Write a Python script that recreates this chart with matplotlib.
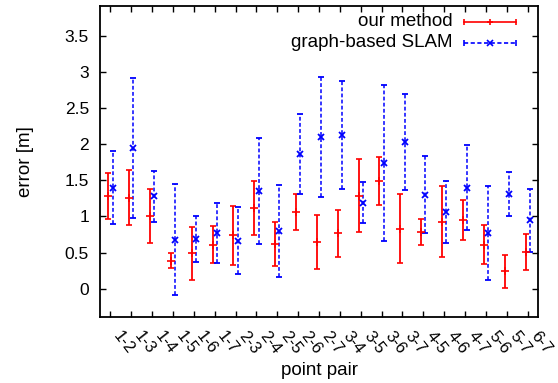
import matplotlib
matplotlib.use("Agg")
import matplotlib.pyplot as plt
import numpy as np
from matplotlib.ticker import FormatStrFormatter

# ── Data ──────────────────────────────────────────────────────────────────
pairs = ["1-2", "1-3", "1-4", "1-5", "1-6", "1-7", "2-3", "2-4", "2-5", "2-6",
         "2-7", "3-4", "3-5", "3-6", "3-7", "4-5", "4-6", "4-7", "5-6", "5-7",
         "6-7"]
ours_mean = [1.28, 1.26, 1.01, 0.39, 0.49, 0.61, 0.74, 1.12, 0.62, 1.06,
             0.65, 0.765, 1.29, 1.49, 0.83, 0.79, 0.93, 0.95, 0.61, 0.24,
             0.51]
ours_err = [0.32, 0.38, 0.37, 0.105, 0.37, 0.26, 0.41, 0.37, 0.30, 0.245,
            0.375, 0.33, 0.50, 0.335, 0.48, 0.18, 0.49, 0.275, 0.27, 0.225,
            0.245]
slam_mean = [1.40, 1.95, 1.28, 0.68, 0.69, 0.77, 0.665, 1.35, 0.80, 1.86,
             2.10, 2.13, 1.19, 1.74, 2.03, 1.30, 1.065, 1.40, 0.77, 1.31,
             0.945]
slam_err = [0.50, 0.97, 0.35, 0.77, 0.315, 0.41, 0.46, 0.73, 0.64, 0.555,
            0.83, 0.75, 0.28, 1.08, 0.66, 0.53, 0.425, 0.585, 0.655, 0.30,
            0.44]

RED = "#ff0000"
BLUE = "#0000ff"
FS = 12.5
FS_TXT = 13.5

plt.rcParams["font.family"] = ["Liberation Sans", "DejaVu Sans"]

fig = plt.figure(figsize=(5.58, 3.83), dpi=100)
ax = fig.add_axes([0.1792, 0.1723, 0.785, 0.812])

x = np.arange(len(pairs))
ax.errorbar(x - 0.1, ours_mean, yerr=ours_err, fmt="+", color=RED,
            elinewidth=1.3, capsize=2.5, capthick=1.3, markersize=6, mew=1.2)
eb = ax.errorbar(x + 0.1, slam_mean, yerr=slam_err, fmt="x", color=BLUE,
                 elinewidth=1.1, capsize=2.5, capthick=1.1, markersize=4.5,
                 mew=1.3)
eb.lines[2][0].set_linestyle((0, (2.5, 1.5)))

# ── Axes styling (gnuplot look) ───────────────────────────────────────────
ax.set_xlim(-0.5, 20.5)
ax.set_ylim(-0.39, 3.91)
ax.set_xticks(x)
ax.set_xticklabels(pairs, rotation=-52, ha="left", va="top", fontsize=12)
ax.set_yticks(np.arange(0, 3.6, 0.5))
ax.yaxis.set_major_formatter(FormatStrFormatter("%g"))
ax.tick_params(direction="in", top=True, right=True, length=4, width=1)
ax.tick_params(axis="y", pad=8, labelsize=FS)
ax.tick_params(axis="x", pad=8)
for sp in ax.spines.values():
    sp.set_linewidth(1.3)

ax.set_ylabel("error [m]", fontsize=FS_TXT, labelpad=22)
ax.set_xlabel("point pair", fontsize=FS_TXT, labelpad=4)

# ── Key, gnuplot style: text right, sample line with caps ─────────────────
key = [("our method", RED, "-", "+"), ("graph-based SLAM", BLUE, (0, (2.5, 1.5)), "x")]
for i, (lab, col, ls, mk) in enumerate(key):
    yk = 0.950 - i * 0.068
    ax.text(0.804, yk, lab, transform=ax.transAxes, ha="right", va="center",
            fontsize=FS_TXT)
    ax.plot([0.831, 0.950], [yk, yk], transform=ax.transAxes, color=col,
            ls=ls, lw=1.2, clip_on=False)
    ax.plot([0.831, 0.950], [yk, yk], transform=ax.transAxes, color=col,
            ls="none", marker="|", markersize=5, mew=1.2, clip_on=False)
    ax.plot([0.890], [yk], transform=ax.transAxes, color=col, ls="none",
            marker=mk, markersize=5, mew=1.2, clip_on=False)

fig.savefig("out.png", dpi=100, facecolor="white")
